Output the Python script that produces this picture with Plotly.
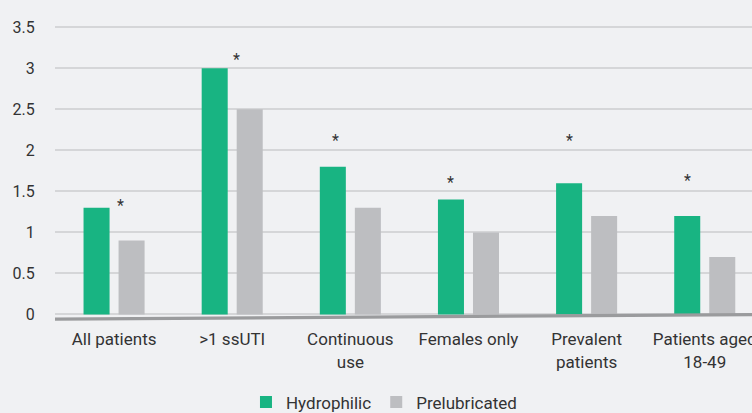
import plotly.graph_objects as go

categories = ["All patients", ">1 ssUTI", "Continuous<br>use", "Females only", "Prevalent<br>patients", "Patients aged<br>18-49"]
hydrophilic = [1.3, 3.0, 1.8, 1.4, 1.6, 1.2]
prelubricated = [0.9, 2.5, 1.3, 1.0, 1.2, 0.7]
significance = ["*", "*", "*", "*", "*", "*"]
y_ticks = [0, 0.5, 1, 1.5, 2, 2.5, 3, 3.5]
y_tick_labels = ["0", "0.5", "1", "1.5", "2", "2.5", "3", "3.5"]

GREEN = "#18B482"
GRAY = "#BDBEC1"
BG = "#F0F1F3"
FONT = "Roboto"

fig = go.Figure()
fig.add_trace(go.Bar(x=categories, y=hydrophilic, name="Hydrophilic",
                     marker=dict(color=GREEN, line=dict(width=0))))
fig.add_trace(go.Bar(x=categories, y=prelubricated, name="Prelubricated",
                     marker=dict(color=GRAY, line=dict(width=0))))

# asterisk offsets (pixels) relative to the category centre / green bar top
ast_dx = [6.5, 4.5, -14.5, -17.8, -17, -16.8]
ast_dy = [2, 9, 26, 17, 43, 35]
for i, (c, v, s) in enumerate(zip(categories, hydrophilic, significance)):
    fig.add_annotation(x=c, y=v, text=s, showarrow=False,
                       xshift=ast_dx[i], yshift=ast_dy[i],
                       font=dict(size=16, color="#333333", family=FONT))

# slightly slanted baseline
fig.add_shape(type="line", xref="paper", yref="y", x0=0, x1=1, y0=-0.057, y1=-0.002,
              line=dict(color="#9A9B9D", width=3.3), layer="above")

fig.update_layout(
    width=752, height=413,
    margin=dict(l=55, r=0, t=15, b=92, autoexpand=False),
    paper_bgcolor=BG, plot_bgcolor=BG,
    barmode="group", bargap=0.407, bargroupgap=0.257,
    font=dict(family=FONT, size=17, color="#333333"),
    showlegend=True,
    legend=dict(orientation="h", x=0.274, xanchor="left",
                yref="paper", y=-0.266, yanchor="middle",
                font=dict(size=17, color="#333333"), itemwidth=30,
                traceorder="normal", bgcolor="rgba(0,0,0,0)"),
    xaxis=dict(range=[-0.5, 5.4], showgrid=False, showline=False, zeroline=False,
               ticks="outside", ticklen=3, tickcolor="rgba(0,0,0,0)",
               tickfont=dict(size=17, color="#333333")),
    yaxis=dict(range=[-0.08, 3.65], tickvals=y_ticks, ticktext=y_tick_labels,
               showgrid=True, gridcolor="#D5D6D8", gridwidth=1.5, zeroline=False,
               showline=False, ticks="outside", ticklen=16, tickcolor="rgba(0,0,0,0)",
               tickfont=dict(size=16, color="#333333")),
)

fig.write_html("out.html", config={"displayModeBar": False},
               post_script="document.body.style.margin='0';document.body.style.overflow='hidden';")
